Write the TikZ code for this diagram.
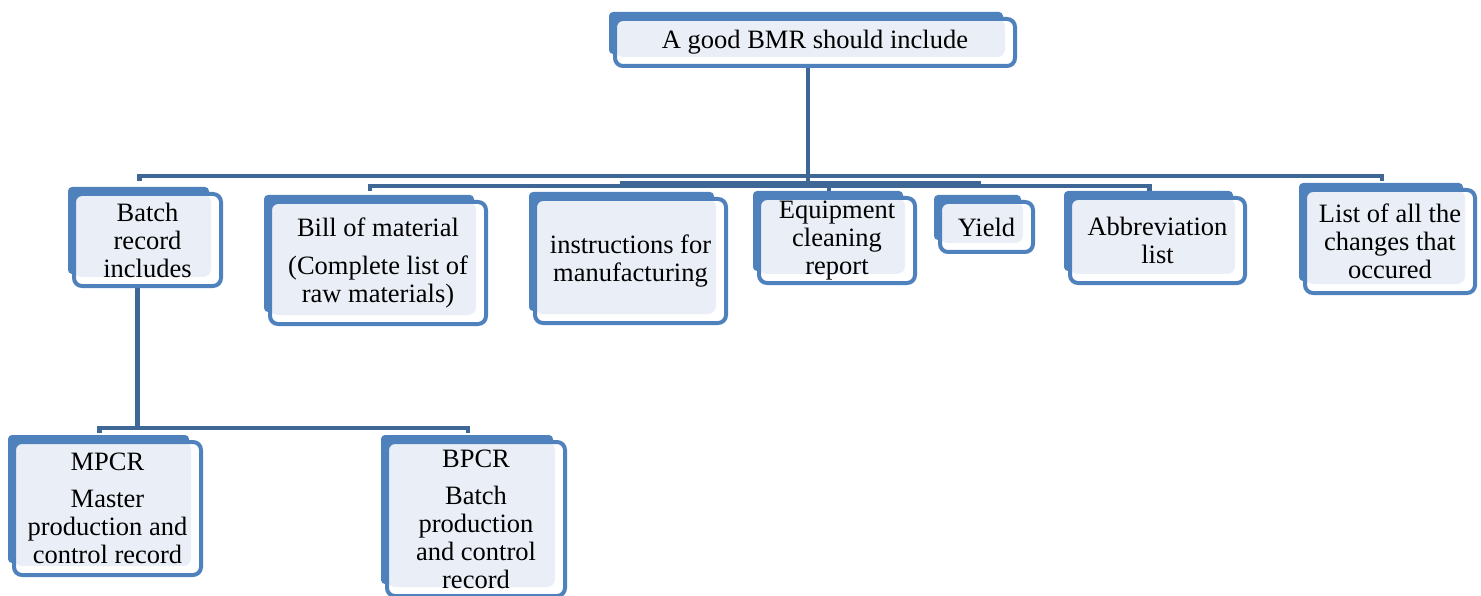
\documentclass[tikz,border=0pt]{standalone}
\usepackage{fontspec}
\setmainfont{Liberation Serif}
\usetikzlibrary{backgrounds}
\definecolor{bmrblue}{HTML}{4F81BD}
\definecolor{bmrline}{HTML}{3F6796}
\definecolor{bmrfill}{HTML}{EAEFF7}

\begin{document}
\begin{tikzpicture}[x=1pt, y=-1pt]
    \tikzstyle{item}=[draw=bmrblue, line width=4pt, rounded corners=8pt, fill=white, inner sep=0pt, align=center, font=\fontsize{26.5}{28}\selectfont, path picture={\fill[bmrfill] (path picture bounding box.north west) rectangle ([shift={(-10pt,9pt)}]path picture bounding box.south east);}]
    \tikzstyle{link}=[draw=bmrline, line width=4.5pt]
    \useasboundingbox (0,0) rectangle (1481,596);
    \node[item, minimum width=400, minimum height=47] (root) at (815,42.5) {A good BMR should include};
    \node[item, minimum width=147, minimum height=92] (batch) at (147.5,240) {Batch\\record\\includes};
    \node[item, minimum width=216, minimum height=122] (bill) at (378,263) {Bill of material\\[10pt](Complete list of\\raw materials)};
    \node[item, minimum width=191, minimum height=124] (instr) at (630.5,261) {instructions for\\manufacturing};
    \node[item, minimum width=156, minimum height=85] (equip) at (837,240.5) {Equipment\\cleaning\\report};
    \node[item, minimum width=93, minimum height=50] (yield) at (986.5,227) {Yield};
    \node[item, minimum width=175, minimum height=85] (abbr) at (1157.5,240.5) {Abbreviation\\list};
    \node[item, minimum width=170, minimum height=103] (list) at (1390,241.5) {List of all the\\changes that\\occured};
    \node[item, minimum width=187, minimum height=133] (mpcr) at (107.5,508.5) {MPCR\\[9pt]Master\\production and\\control record};
    \node[item, minimum width=178, minimum height=154] (bpcr) at (476,519) {BPCR\\[9pt]Batch\\production\\and control\\record};
    \begin{scope}[on background layer]
      % connectors from the top box
      \foreach \n/\bar in {batch/176, list/176, bill/186, abbr/186, instr/183, yield/183, equip/186}
        \draw[link] ([xshift=-7pt]root.south) |- (perpendicular cs: horizontal line through={(0,\bar)}, vertical line through={([xshift=-8pt]\n.north)}) -- ++(0,5);
      \foreach \n in {mpcr, bpcr}
        \draw[link] ([xshift=-10pt]batch.south) |- (perpendicular cs: horizontal line through={(0,428)}, vertical line through={([xshift=-8pt]\n.north)}) -- ++(0,5);
      % blue backing of each box
      \foreach \n in {root, batch, bill, instr, equip, yield, abbr, list, mpcr, bpcr}
        \fill[bmrblue, rounded corners=4pt] ([shift={(-4pt,5pt)}]\n.north west) rectangle ([shift={(-14pt,14pt)}]\n.south east);
    \end{scope}
\end{tikzpicture}
\end{document}
